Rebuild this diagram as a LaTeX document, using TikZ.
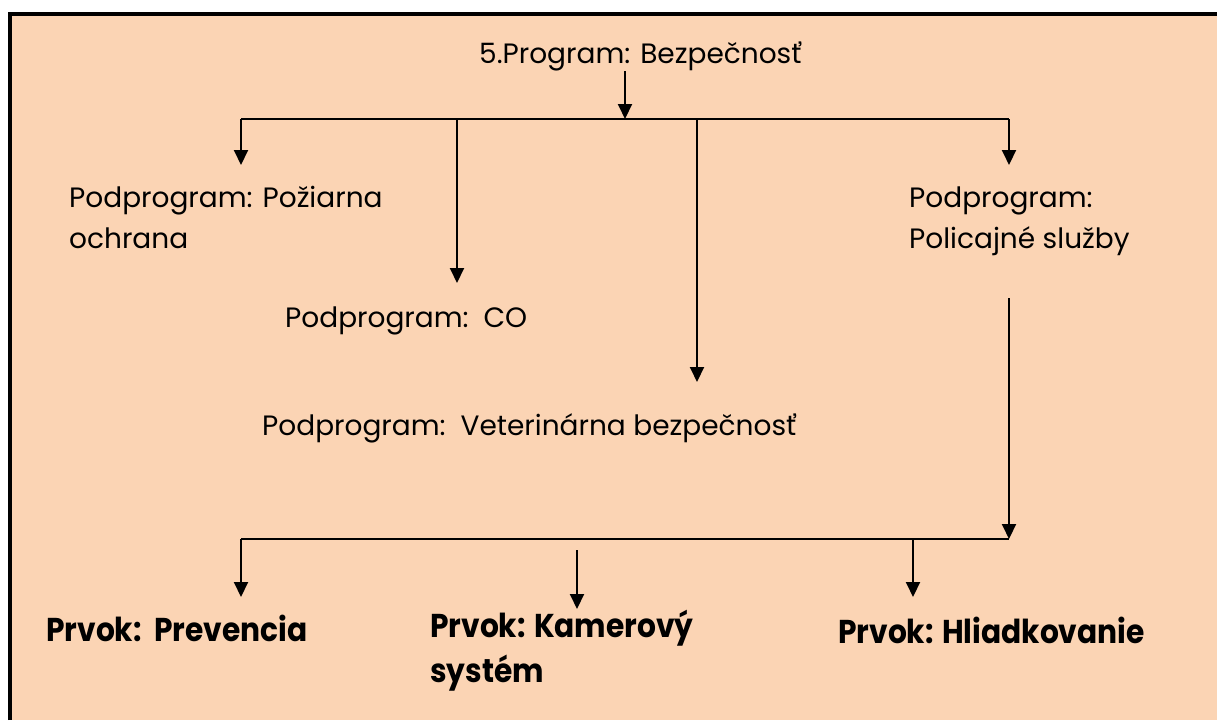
\documentclass[tikz,border=0pt]{standalone}
\usepackage{fontspec}
\setmainfont{Poppins}
\newfontfamily\boldcond{Poppins}[FakeStretch=0.90]
\usetikzlibrary{arrows.meta}
\definecolor{peach}{HTML}{FBD4B4}
\tikzset{
  lbl/.style={anchor=base west, inner sep=0pt, align=left, font=\fontsize{28}{41}\selectfont},
  blbl/.style={anchor=base west, inner sep=0pt, align=left, font=\boldcond\fontsize{33}{45}\selectfont\bfseries},
  conn/.style={line width=2pt, black},
  arr/.style={conn, -{Triangle[width=14pt,length=15pt]}}
}
\begin{document}
\begin{tikzpicture}[x=1pt,y=-1pt]
\useasboundingbox (0,0) rectangle (1217,720);
\fill[peach] (10,14) rectangle (1217,720);
\draw[line width=4pt] (10,720) -- (10,14) -- (1217,14);
% labels (multi-line nodes anchored at the baseline of their last line)
\node[lbl] (prog) at (479,63) {5.Program: Bezpečnosť};
\node[lbl] (pozi) at (69,248) {Podprogram: Požiarna\\ochrana};
\node[lbl] (co) at (285,327) {Podprogram:\ \ CO};
\node[lbl] (vet) at (262,435) {Podprogram:\ \ Veterinárna bezpečnosť};
\node[lbl] (pol) at (909,248) {Podprogram:\\Policajné služby};
\node[blbl] (prev) at (46,641) {Prvok:\ \ Prevencia};
\node[blbl] (kam) at (430,682) {Prvok: Kamerový\\systém};
\node[blbl] (hli) at (838,643) {Prvok: Hliadkovanie};
% connector points
\coordinate (ptop) at (625,71);
\coordinate (hub) at (625,119);
\coordinate (b1) at (241,119);
\coordinate (b2) at (457,119);
\coordinate (b3) at (697,119);
\coordinate (b4) at (1009,119);
\coordinate (e1) at (241,165);
\coordinate (e2) at (457,283);
\coordinate (e3) at (697,382);
\coordinate (e4) at (1009,165);
\coordinate (ptop2) at (1009,298);
\coordinate (hub2) at (1009,539);
\coordinate (c1) at (241,539);
\coordinate (c3) at (913,539);
\coordinate (f1) at (241,597);
\coordinate (c2) at (577,550);
\coordinate (f2) at (577,609);
\coordinate (f3) at (913,597);
% connectors
\draw[arr] (ptop) -- (hub);
\draw[conn] (b1) -- (b4);
\draw[arr] (b1) -- (e1);
\draw[arr] (b2) -- (e2);
\draw[arr] (b3) -- (e3);
\draw[arr] (b4) -- (e4);
\draw[arr] (ptop2) -- (hub2);
\draw[conn] (c1) -- (hub2);
\draw[arr] (c1) -- (f1);
\draw[arr] (c2) -- (f2);
\draw[arr] (c3) -- (f3);
\end{tikzpicture}
\end{document}
